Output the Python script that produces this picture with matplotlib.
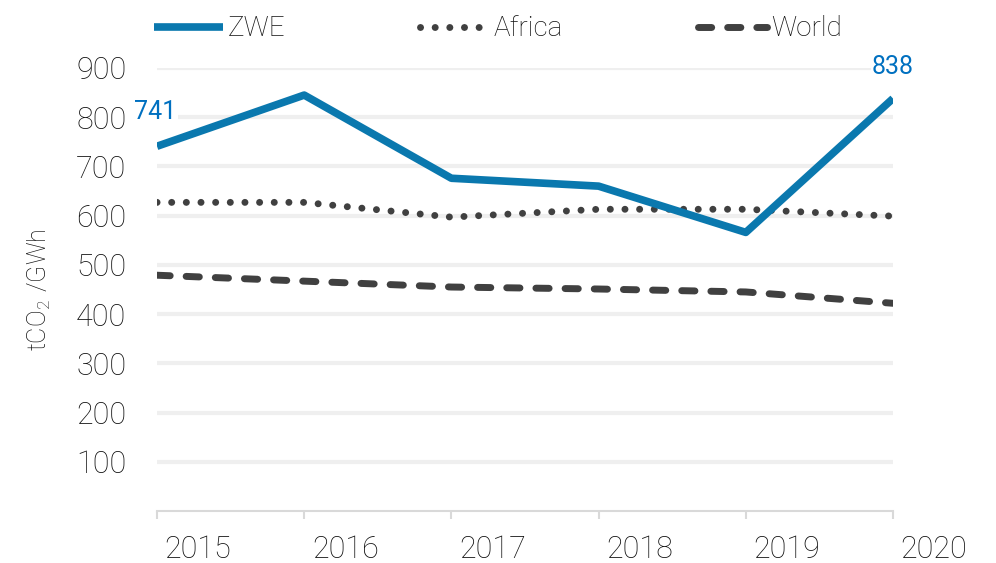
import matplotlib.pyplot as plt
import matplotlib.transforms as mtransforms
from matplotlib import font_manager

# -------------------------------------------------------------
# Data
# -------------------------------------------------------------
years = [2015, 2016, 2017, 2018, 2019, 2020]
zwe = [741, 845, 676, 660, 566, 838]
africa = [627, 627, 597, 613, 613, 599]
world = [479, 467, 455, 451, 445, 422]
yticks = [100, 200, 300, 400, 500, 600, 700, 800, 900]

# -------------------------------------------------------------
# Style
# -------------------------------------------------------------
fams = {f.name for f in font_manager.fontManager.ttflist}
base = 'Roboto' if 'Roboto' in fams else 'DejaVu Sans'
plt.rcParams['font.family'] = [base, 'DejaVu Sans']
plt.rcParams['font.weight'] = 'light'
plt.rcParams['mathtext.fontset'] = 'custom'
plt.rcParams['mathtext.rm'] = base + ':light'
plt.rcParams['mathtext.default'] = 'rm'

blue = '#0a78ae'
lblue = '#0070c0'
grey = '#404040'
txt = '#111111'

fig = plt.figure(figsize=(9.96, 5.63), dpi=100)
ax = fig.add_axes([157 / 996, 1 - 511 / 563, (893 - 157) / 996, (511 - 68) / 563])

ax.plot(years, zwe, color=blue, lw=5.5, solid_capstyle='butt', label='ZWE', zorder=4)
ax.plot(years, africa, color=grey, lw=5, ls=(0, (0.01, 2.1)), dash_capstyle='round',
        label='Africa', zorder=3)
ax.plot(years, world, color=grey, lw=5, ls=(0, (1.9, 2.3)), dash_capstyle='round',
        label='World', zorder=3)

ax.set_xlim(2015, 2020)
ax.set_ylim(0, 900)
ax.set_yticks(yticks)
ax.set_xticks(years)
ax.grid(axis='y', color='#efefef', lw=3)
ax.set_axisbelow(True)
for s in ['left', 'right', 'top']:
    ax.spines[s].set_visible(False)
ax.spines['bottom'].set_color('#d9d9d9')
ax.spines['bottom'].set_linewidth(1.5)
ax.tick_params(axis='y', length=0, labelsize=22, pad=22, labelcolor=txt)
ax.tick_params(axis='x', length=6, width=1.5, color='#d9d9d9', labelsize=22, pad=11,
               labelcolor=txt)

# x labels sit to the right of their ticks
off = mtransforms.ScaledTranslation(0.41, 0, fig.dpi_scale_trans)
for lbl in ax.get_xticklabels():
    lbl.set_transform(lbl.get_transform() + off)

ax.set_ylabel(r'$\mathrm{tCO_2\ /GWh}$', fontsize=18, color=txt)
ax.yaxis.set_label_coords(-104 / 736, 0.5)

ax.annotate(str(zwe[0]), (years[0], zwe[0]), xytext=(-1, 25), textcoords='offset points',
            ha='center', va='center', fontsize=18, fontweight='normal', color=lblue,
            bbox=dict(fc='white', ec='none', pad=1), zorder=5)
ax.annotate(str(zwe[-1]), (years[-1], zwe[-1]), xytext=(0, 23), textcoords='offset points',
            ha='center', va='center', fontsize=18, fontweight='normal', color=lblue,
            bbox=dict(fc='white', ec='none', pad=1), zorder=5)

ax.legend(loc='center', bbox_to_anchor=(0.5, 1 - 29 / 563), bbox_transform=fig.transFigure,
          ncol=3, frameon=False, fontsize=20, handlelength=2.5, handletextpad=0.15,
          columnspacing=4.85, labelcolor=txt, borderaxespad=0)

fig.savefig('out.png', dpi=100)
